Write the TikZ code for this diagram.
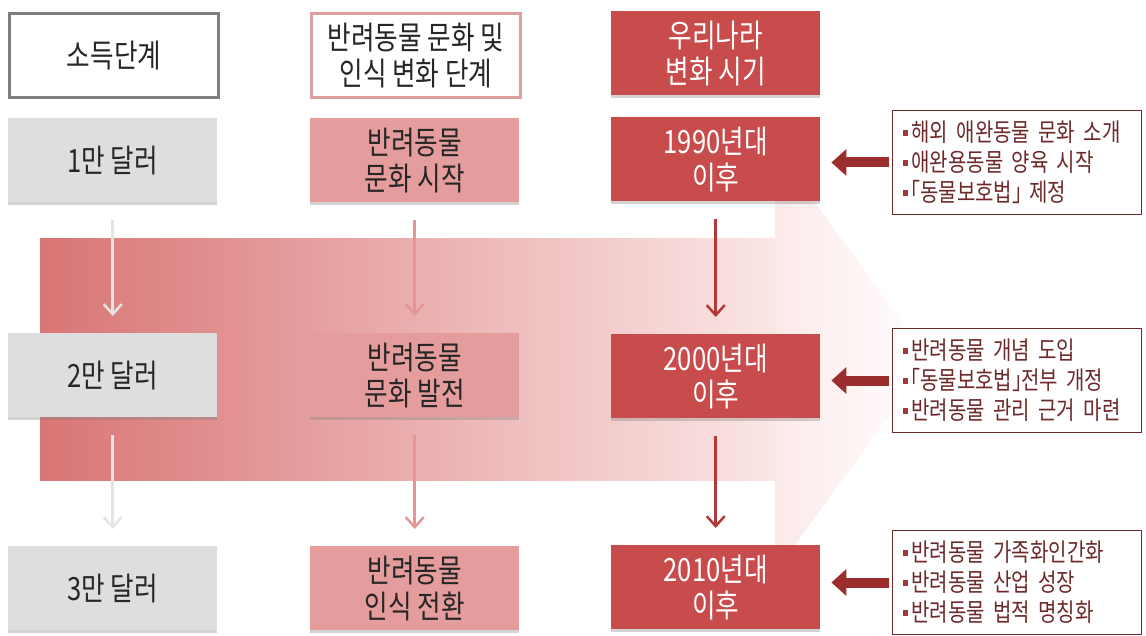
\documentclass[tikz,border=0pt]{standalone}
\usepackage{fontspec}
\setmainfont{Noto Sans CJK KR}[FakeStretch=0.8]
\usetikzlibrary{arrows.meta,shadows}
\definecolor{grayfill}{HTML}{DEDEDE}
\definecolor{pinkfill}{HTML}{E59C9C}
\definecolor{redfill}{HTML}{C84C4B}
\definecolor{bandL}{HTML}{D97575}
\definecolor{bandR}{HTML}{FBE6E6}
\definecolor{bandH}{HTML}{FCE9E9}
\definecolor{arrGray}{HTML}{E4E4E4}
\definecolor{arrPink}{HTML}{E69494}
\definecolor{arrRed}{HTML}{B53838}
\definecolor{darkred}{HTML}{9B2D2D}
\definecolor{txtred}{HTML}{6E2A2A}
\definecolor{bulred}{HTML}{A03A3A}
\definecolor{hdrgray}{HTML}{7F7F7F}
\definecolor{hdrpink}{HTML}{DC9E9E}
\definecolor{txtdark}{HTML}{262626}
\newcommand{\bul}{\textcolor{bulred}{\rule[0.25em]{5pt}{6pt}}\hspace{4pt}}
\newcommand{\lbr}{\kern-0.45em「}
\newcommand{\rbr}{」\kern-0.45em}
\begin{document}
\begin{tikzpicture}[x=1pt,y=-1pt,
  basebox/.style={minimum width=209pt, minimum height=84pt, inner sep=0pt,
    align=center, anchor=north west, font=\fontsize{32}{36}\selectfont},
  shad/.style={drop shadow={opacity=0.35, shadow xshift=0pt, shadow yshift=-2.5pt}},
  hdrA/.style={basebox, draw=hdrgray, line width=3pt, fill=white, text=txtdark},
  hdrB/.style={basebox, draw=hdrpink, line width=3pt, fill=white, text=txtdark},
  graybox/.style={basebox, shad, fill=grayfill, text=txtdark},
  pinkbox/.style={basebox, shad, fill=pinkfill, text=txtdark},
  redbox/.style={basebox, shad, fill=redfill, text=white},
  infobox/.style={anchor=north west, draw=txtred, line width=1pt, fill=white,
    text width=229pt, inner xsep=10pt, inner ysep=0pt, minimum height=104pt,
    align=left, text=txtred, font=\fontsize{25}{30}\selectfont},
  varrow/.style={line width=2.5pt, -{Straight Barb[length=10pt,width=18pt]},
    shorten <=18pt, shorten >=17pt},
  bigarrow/.style={line width=10pt, darkred, -{Triangle[length=15pt,width=26pt]},
    shorten <=3pt, shorten >=11pt}
]
\useasboundingbox (0,0) rectangle (1146,636);
% big background arrow
\shade[left color=bandH, right color=white] (775,148) -- (930,360) -- (775,572) -- cycle;
\shade[left color=bandL, right color=bandR] (40,239) rectangle (775,480);
% headers
\node[hdrA] (h1) at (8,12) {소득단계};
\node[hdrB] (h2) at (310,12) {반려동물 문화 및\\인식 변화 단계};
\node[redbox] (h3) at (611,11) {우리나라\\변화 시기};
% row 1
\node[graybox] (g1) at (8,118) {1만 달러};
\node[pinkbox] (p1) at (310,118) {반려동물\\문화 시작};
\node[redbox] (t1) at (611,117) {1990년대\\이후};
% row 2
\node[graybox] (g2) at (8,333) {2만 달러};
\node[pinkbox] (p2) at (310,333) {반려동물\\문화 발전};
\node[redbox] (t2) at (611,334) {2000년대\\이후};
% row 3
\node[graybox] (g3) at (8,546) {3만 달러};
\node[pinkbox] (p3) at (310,546) {반려동물\\인식 전환};
\node[redbox] (t3) at (611,545) {2010년대\\이후};
% vertical arrows
\draw[varrow, arrGray] (g1) -- (g2);
\draw[varrow, arrGray] (g2) -- (g3);
\draw[varrow, arrPink] (p1) -- (p2);
\draw[varrow, arrPink] (p2) -- (p3);
\draw[varrow, arrRed] (t1) -- (t2);
\draw[varrow, arrRed] (t2) -- (t3);
% info boxes
\node[infobox] (r1) at (892,110) {\bul 해외 애완동물 문화 소개\\\bul 애완용동물 양육 시작\\\bul \lbr 동물보호법\rbr\ 제정};
\node[infobox] (r2) at (892,328) {\bul 반려동물 개념 도입\\\bul \lbr 동물보호법\rbr 전부 개정\\\bul 반려동물 관리 근거 마련};
\node[infobox] (r3) at (892,530) {\bul 반려동물 가족화인간화\\\bul 반려동물 산업 성장\\\bul 반려동물 법적 명칭화};
% left arrows
\draw[bigarrow] (r1.west) -- (r1.west -| t1.east);
\draw[bigarrow] (r2.west) -- (r2.west -| t2.east);
\draw[bigarrow] (r3.west) -- (r3.west -| t3.east);
\end{tikzpicture}
\end{document}
